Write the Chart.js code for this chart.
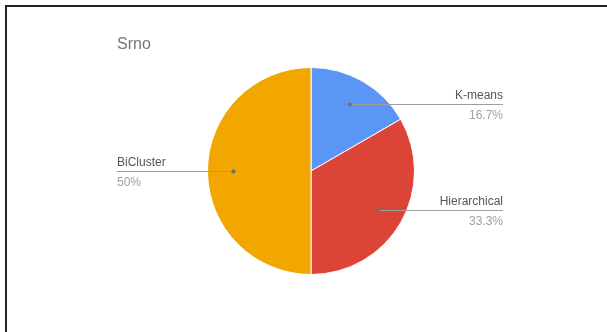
<!DOCTYPE html>
<html>
<head>
<meta charset="utf-8">
<script src="https://cdn.jsdelivr.net/npm/chart.js@4"></script>
<style>
  html, body { margin: 0; padding: 0; background: #fff; }
  #wrap { position: absolute; left: 0; top: 0; width: 607px; height: 332px; }
  #frame { position: absolute; left: 5px; top: 5px; right: 0; bottom: 0;
           border-top: 2px solid #222; border-left: 2px solid #222; pointer-events: none; }
</style>
</head>
<body>
<div id="wrap">
  <canvas id="pieChart" width="607" height="332"></canvas>
  <div id="frame"></div>
</div>
<script>
const title = "Srno";
const labels = ["K-means", "Hierarchical", "BiCluster"];
const values = [1, 2, 3];
const percentLabels = ["16.7%", "33.3%", "50%"];
const colors = ["#5b96f6", "#db4437", "#f2a600"];

const FONT = "'Liberation Sans', Arial, sans-serif";

// title drawn at the left of the card, and leader lines with label above / percent below
const leaderLabels = {
  id: "leaderLabels",
  afterDatasetsDraw(chart) {
    const ctx = chart.ctx;
    ctx.save();
    ctx.font = "16px " + FONT;
    ctx.fillStyle = "#757575";
    ctx.textAlign = "left";
    ctx.textBaseline = "alphabetic";
    ctx.fillText(title, 117, 49);

    const arcs = chart.getDatasetMeta(0).data;
    arcs.forEach((arc, i) => {
      const p = arc.getProps(["x", "y", "startAngle", "endAngle", "outerRadius"], true);
      const mid = (p.startAngle + p.endAngle) / 2;
      const dx = p.x + Math.cos(mid) * p.outerRadius * 0.75;
      const dy = Math.round(p.y + Math.sin(mid) * p.outerRadius * 0.75) + 0.5;
      const right = Math.cos(mid) >= 0;
      const endX = right ? 503 : 117;

      ctx.strokeStyle = "#9e9e9e";
      ctx.lineWidth = 1;
      ctx.beginPath();
      ctx.moveTo(dx, dy);
      ctx.lineTo(endX, dy);
      ctx.stroke();

      ctx.fillStyle = "#6e6e6e";
      ctx.beginPath();
      ctx.arc(dx, dy, 2, 0, Math.PI * 2);
      ctx.fill();

      ctx.textAlign = right ? "right" : "left";
      ctx.font = "12px " + FONT;
      ctx.fillStyle = "#555555";
      ctx.fillText(labels[i], endX, dy - 6);
      ctx.fillStyle = "#a0a0a0";
      ctx.fillText(percentLabels[i], endX, dy + 14);
    });
    ctx.restore();
  }
};

new Chart(document.getElementById("pieChart").getContext("2d"), {
  type: "pie",
  data: {
    labels: labels,
    datasets: [{
      data: values,
      backgroundColor: colors,
      borderColor: "#ffffff",
      borderWidth: 1
    }]
  },
  options: {
    responsive: false,
    animation: false,
    layout: { padding: { left: 207, right: 192, top: 67, bottom: 57 } },
    plugins: {
      legend: { display: false },
      tooltip: { enabled: false },
      title: { display: false }
    }
  },
  plugins: [leaderLabels]
});
</script>
</body>
</html>
